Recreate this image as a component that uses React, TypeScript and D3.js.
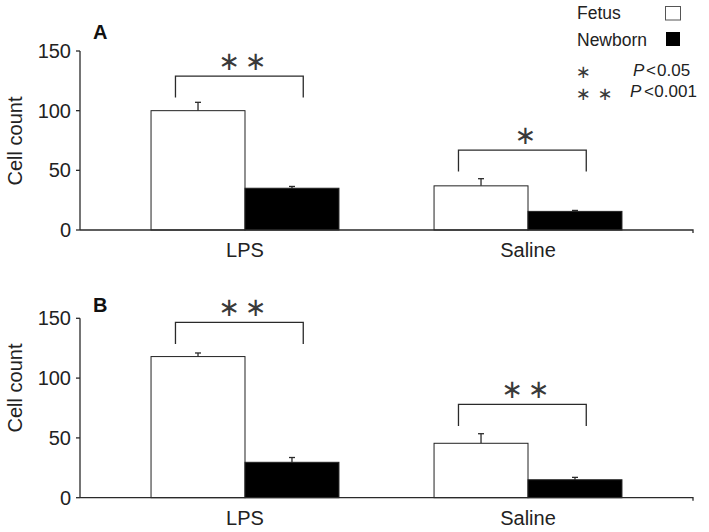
import React from "react";
import * as d3 from "d3";

const categories = ["LPS", "Saline"];
const seriesNames = ["Fetus", "Newborn"];
const yTicks = [0, 50, 100, 150];

// Panel A
const aFetus = [100, 37];
const aFetusErr = [7, 6];
const aNewborn = [35, 15.6];
const aNewbornErr = [1.5, 0.8];
const aSig = ["∗ ∗", "∗"];
const aBracketTop = [129, 67];

// Panel B
const bFetus = [118, 45.5];
const bFetusErr = [3, 8];
const bNewborn = [29.6, 15];
const bNewbornErr = [4, 2];
const bSig = ["∗ ∗", "∗ ∗"];
const bBracketTop = [146.6, 78];

const W = 709;
const H = 532;
const FONT = "'Liberation Sans', Arial, Helvetica, sans-serif";
const STAR_FONT = "'DejaVu Sans', sans-serif";
const LINE = "#2a2a2a";

type PanelProps = {
  letter: string;
  yTop: number;
  yBottom: number;
  fetus: number[];
  fetusErr: number[];
  newborn: number[];
  newbornErr: number[];
  sig: string[];
  bracketTop: number[];
  letterBaseline: number;
  yLabelCenter: number;
};

function Star({ x, y, size }: { x: number; y: number; size: number }) {
  return (
    <text
      x={x}
      y={y}
      fontFamily={STAR_FONT}
      fontSize={size}
      textAnchor="middle"
      dominantBaseline="central"
      fill="#3a3a3a"
    >
      ∗
    </text>
  );
}

function Panel(p: PanelProps) {
  const x0 = d3
    .scaleBand<string>()
    .domain(categories)
    .range([80, 693])
    .paddingInner(0.336)
    .paddingOuter(0.251);
  const x1 = d3
    .scaleBand<string>()
    .domain(seriesNames)
    .range([0, x0.bandwidth()]);
  const y = d3.scaleLinear().domain([0, 150]).range([p.yBottom, p.yTop]);
  const bw = x1.bandwidth();
  const legLen = 18;

  return (
    <g>
      <text
        x={93}
        y={p.letterBaseline}
        fontFamily={FONT}
        fontWeight="bold"
        fontSize={20}
        fill="#111"
      >
        {p.letter}
      </text>
      <text
        transform={`translate(21.5, ${p.yLabelCenter}) rotate(-90)`}
        textAnchor="middle"
        fontFamily={FONT}
        fontSize={20}
        fill="#222"
      >
        Cell count
      </text>
      {/* y axis */}
      <line x1={80} x2={80} y1={y(150)} y2={y(0)} stroke={LINE} strokeWidth={1.3} />
      {yTicks.map((t) => (
        <g key={t}>
          <line x1={76} x2={80} y1={y(t)} y2={y(t)} stroke={LINE} strokeWidth={1.3} />
          <text
            x={71}
            y={y(t) + 7}
            textAnchor="end"
            fontFamily={FONT}
            fontSize={20}
            fill="#222"
          >
            {t}
          </text>
        </g>
      ))}
      {/* bars */}
      {categories.map((c, i) => {
        const gx = x0(c)!;
        const vals = [p.fetus[i], p.newborn[i]];
        const errs = [p.fetusErr[i], p.newbornErr[i]];
        return (
          <g key={c}>
            {seriesNames.map((s, j) => {
              const bx = gx + x1(s)!;
              const cx = bx + bw / 2;
              return (
                <g key={s}>
                  <line
                    x1={cx}
                    x2={cx}
                    y1={y(vals[j])}
                    y2={y(vals[j] + errs[j])}
                    stroke={LINE}
                    strokeWidth={1.3}
                  />
                  <line
                    x1={cx - 3}
                    x2={cx + 3}
                    y1={y(vals[j] + errs[j])}
                    y2={y(vals[j] + errs[j])}
                    stroke={LINE}
                    strokeWidth={1.3}
                  />
                  <rect
                    x={bx}
                    y={y(vals[j])}
                    width={bw}
                    height={y(0) - y(vals[j])}
                    fill={j === 0 ? "#fff" : "#000"}
                    stroke="#222"
                    strokeWidth={1}
                  />
                </g>
              );
            })}
            {/* significance bracket */}
            {(() => {
              const left = gx + x1("Fetus")! + bw * 0.26;
              const right = gx + x1("Newborn")! + bw * 0.62;
              const top = y(p.bracketTop[i]);
              const leg = y(p.bracketTop[i] - legLen);
              const mid = (left + right) / 2 + 3;
              const nStars = p.sig[i].split("∗").length - 1;
              const starY = top - 15;
              return (
                <g>
                  <path
                    d={`M${left},${leg}V${top}H${right}V${leg}`}
                    fill="none"
                    stroke={LINE}
                    strokeWidth={1.3}
                  />
                  {d3.range(nStars).map((k) => (
                    <Star
                      key={k}
                      x={mid + (k - (nStars - 1) / 2) * 26.5}
                      y={starY}
                      size={26}
                    />
                  ))}
                </g>
              );
            })()}
            <text
              x={gx + x0.bandwidth() / 2}
              y={y(0) + 27}
              textAnchor="middle"
              fontFamily={FONT}
              fontSize={20}
              fill="#222"
            >
              {c}
            </text>
          </g>
        );
      })}
      {/* x axis */}
      <path
        d={`M80,${y(0)}H693V${y(0) + 3}`}
        fill="none"
        stroke={LINE}
        strokeWidth={1.3}
      />
    </g>
  );
}

export default function App() {
  return (
    <svg
      width={W}
      height={H}
      viewBox={`0 0 ${W} ${H}`}
      style={{ position: "absolute", left: 0, top: 0, background: "#fff" }}
    >
      <rect x={0} y={0} width={W} height={H} fill="#fff" />
      <Panel
        letter="A"
        yTop={51}
        yBottom={230}
        fetus={aFetus}
        fetusErr={aFetusErr}
        newborn={aNewborn}
        newbornErr={aNewbornErr}
        sig={aSig}
        bracketTop={aBracketTop}
        letterBaseline={38.5}
        yLabelCenter={141}
      />
      <Panel
        letter="B"
        yTop={318.3}
        yBottom={497.7}
        fetus={bFetus}
        fetusErr={bFetusErr}
        newborn={bNewborn}
        newbornErr={bNewbornErr}
        sig={bSig}
        bracketTop={bBracketTop}
        letterBaseline={311.7}
        yLabelCenter={388}
      />
      {/* legend */}
      <g fontFamily={FONT} fontSize={17.5} fill="#222">
        <text x={577} y={19}>{seriesNames[0]}</text>
        <rect x={665.5} y={6.5} width={15} height={13.5} fill="#fff" stroke="#555" strokeWidth={1} />
        <text x={577} y={45.7}>{seriesNames[1]}</text>
        <rect x={666} y={32} width={14} height={14} fill="#000" />
      </g>
      <Star x={583.3} y={71.5} size={18} />
      <Star x={583.3} y={93} size={18} />
      <Star x={605} y={93} size={18} />
      <g fontFamily={FONT} fontSize={17} fill="#222">
        <text x={633} y={75.5} fontStyle="italic">P</text>
        <text x={646} y={75.5}>{"<"}</text>
        <text x={657} y={75.5}>0.05</text>
        <text x={630} y={97} fontStyle="italic">P</text>
        <text x={644} y={97}>{"<"}</text>
        <text x={654.3} y={97}>0.001</text>
      </g>
    </svg>
  );
}
